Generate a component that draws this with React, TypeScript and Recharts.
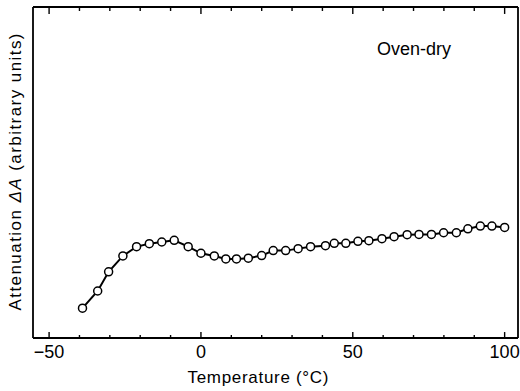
import { Line, LineChart, ReferenceLine, XAxis, YAxis } from 'recharts';

// Temperature (°C) of each measured point
const temps = [
  -39, -34, -30.4, -25.7, -21.2, -17, -12.9, -8.8, -4.2, 0, 4.4, 8.2, 11.7, 15.6,
  20, 23.8, 27.9, 32, 36.1, 41, 43.9, 47.7, 51.7, 55.3, 59.6, 63.6, 67.9, 71.8,
  75.9, 79.9, 84.1, 87.9, 92, 95.8, 100,
];

// Attenuation ΔA, arbitrary units (0 = bottom of frame, 100 = top)
const attenuation = [
  9.0, 14.2, 20.0, 24.8, 27.6, 28.5, 29.0, 29.5, 27.6, 25.6, 24.8, 23.9, 23.9, 24.1,
  24.9, 26.4, 26.4, 27.0, 27.6, 27.9, 28.6, 28.6, 29.2, 29.4, 30.0, 30.6, 31.2, 31.3,
  31.3, 31.8, 31.8, 33.0, 33.8, 33.8, 33.4,
];

const majorTicks = [-50, 0, 50, 100];
const minorTicks = [-40, -30, -20, -10, 10, 20, 30, 40, 60, 70, 80, 90];
const xDomain = [-55.3, 104.4];
const yDomain = [0, 100];

const data = temps.map((t, i) => ({ t, a: attenuation[i] }));

const FONT = '"Liberation Sans", Arial, Helvetica, sans-serif';
const frame = { stroke: '#000', strokeWidth: 1.8 };

const fmt = (v: number) => (v < 0 ? `\u2212${-v}` : `${v}`);

const BottomLabel = (props: any) => {
  const { x, y, payload } = props;
  return (
    <text x={x} y={y + 20} textAnchor="middle" fontSize={18} fontFamily={FONT} fill="#000">
      {fmt(Math.round(payload.value))}
    </text>
  );
};

// inward tick marks, drawn as short segments in data units (y axis is 0..100 over ~331px)
const tickMark = (x: number, y0: number, y1: number) => (
  <ReferenceLine
    key={`${x}-${y0}`}
    xAxisId="bottom"
    yAxisId="left"
    segment={[{ x, y: y0 }, { x, y: y1 }]}
    stroke="#000"
    strokeWidth={1.4}
    ifOverflow="visible"
  />
);

export default function App() {
  return (
    <div style={{ position: 'absolute', left: 0, top: 0, width: 520, height: 391, background: '#fff' }}>
      <LineChart width={520} height={391} data={data} margin={{ top: 6, right: 0, bottom: 0, left: 0 }}>
        <XAxis
          xAxisId="bottom"
          type="number"
          dataKey="t"
          domain={xDomain}
          ticks={majorTicks}
          interval={0}
          allowDataOverflow
          height={53}
          stroke="#000"
          tickSize={0}
          tickMargin={0}
          tickLine={false}
          tick={<BottomLabel />}
          axisLine={frame}
        />
        <XAxis
          xAxisId="top"
          orientation="top"
          type="number"
          dataKey="t"
          domain={xDomain}
          ticks={majorTicks}
          allowDataOverflow
          height={1}
          stroke="#000"
          tick={false}
          tickLine={false}
          axisLine={frame}
        />
        <YAxis
          yAxisId="left"
          type="number"
          domain={yDomain}
          width={33}
          tick={false}
          tickLine={false}
          axisLine={frame}
        />
        <YAxis
          yAxisId="right"
          orientation="right"
          type="number"
          domain={yDomain}
          width={2}
          tick={false}
          tickLine={false}
          axisLine={frame}
        />
        {majorTicks.map((x) => tickMark(x, 0, 1.8))}
        {minorTicks.map((x) => tickMark(x, 0, 0.9))}
        {majorTicks.map((x) => tickMark(x, 100, 97.9))}
        {minorTicks.map((x) => tickMark(x, 100, 98.8))}
        <Line
          xAxisId="bottom"
          yAxisId="left"
          type="linear"
          dataKey="a"
          stroke="#000"
          strokeWidth={2}
          dot={{ r: 4, fill: '#fff', stroke: '#000', strokeWidth: 1.5 }}
          activeDot={false}
          isAnimationActive={false}
        />
      </LineChart>
      <svg
        width={520}
        height={391}
        style={{ position: 'absolute', left: 0, top: 0, pointerEvents: 'none' }}
        fontFamily={FONT}
      >
        <text x={414} y={55} textAnchor="middle" fontSize={18} fill="#000">
          Oven-dry
        </text>
        <text x={258} y={383} textAnchor="middle" fontSize={17} textLength={141} lengthAdjust="spacing" fill="#000">
          Temperature (°C)
        </text>
        <text
          transform="translate(21,172) rotate(-90)"
          textAnchor="middle"
          fontSize={17}
          textLength={277}
          lengthAdjust="spacing"
          fill="#000"
        >
          Attenuation <tspan fontStyle="italic">ΔA</tspan> (arbitrary units)
        </text>
      </svg>
    </div>
  );
}
